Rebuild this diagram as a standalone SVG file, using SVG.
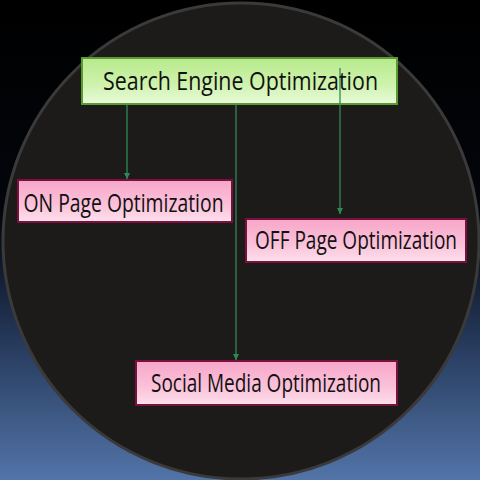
<svg xmlns="http://www.w3.org/2000/svg" width="480" height="480" viewBox="0 0 480 480">
<defs>
<linearGradient id="bg" x1="0" y1="0" x2="0" y2="1">
<stop offset="0" stop-color="#000000"/>
<stop offset="0.45" stop-color="#03060c"/>
<stop offset="0.7" stop-color="#243758"/>
<stop offset="1" stop-color="#5274a8"/>
</linearGradient>
<linearGradient id="green" x1="0" y1="0" x2="0" y2="1">
<stop offset="0" stop-color="#b8ea8c"/>
<stop offset="0.6" stop-color="#cff3ae"/>
<stop offset="1" stop-color="#eafbdc"/>
</linearGradient>
<linearGradient id="pink" x1="0" y1="0" x2="0" y2="1">
<stop offset="0" stop-color="#f7a6c8"/>
<stop offset="0.6" stop-color="#fbc2da"/>
<stop offset="1" stop-color="#fde0ec"/>
</linearGradient>
<marker id="arr" markerWidth="8" markerHeight="8" refX="6" refY="3" orient="auto" markerUnits="userSpaceOnUse">
<path d="M0,0 L6,3 L0,6 Z" fill="#2e8a55"/>
</marker>
<style>
.t{font-family:"Open Sans","Liberation Sans",sans-serif;fill:#111;text-anchor:middle}
.g{fill:url(#green);stroke:#5a9a30;stroke-width:2}
.p{fill:url(#pink);stroke:#7a1040;stroke-width:2}
.c{stroke:#2e8a55;stroke-width:1.3;fill:none}
</style>
</defs>
<rect width="480" height="480" fill="url(#bg)"/>
<circle cx="241" cy="241" r="238" fill="#1c1b1a" stroke="#3a3a3a" stroke-width="3"/>
<g id="connectors">
<line class="c" x1="127" y1="104" x2="127" y2="179" marker-end="url(#arr)"/>
<line class="c" x1="236" y1="104" x2="236" y2="360" marker-end="url(#arr)"/>
<line class="c" x1="340" y1="68" x2="340" y2="214" marker-end="url(#arr)"/>
</g>
<g id="seo">
<rect class="g" x="82" y="58" width="315" height="46"/>
<line class="c" x1="340" y1="68" x2="340" y2="104"/>
<text class="t" transform="translate(240.5 90) scale(0.8 1)" font-size="26" textLength="343.75" lengthAdjust="spacingAndGlyphs">Search Engine Optimization</text>
</g>
<g id="onpage">
<rect class="p" x="18" y="180" width="214" height="42"/>
<text class="t" transform="translate(123.5 212) scale(0.8 1)" font-size="25" textLength="250" lengthAdjust="spacingAndGlyphs">ON Page Optimization</text>
</g>
<g id="offpage">
<rect class="p" x="246" y="219" width="220" height="43"/>
<text class="t" transform="translate(356 249) scale(0.8 1)" font-size="25" textLength="252.5" lengthAdjust="spacingAndGlyphs">OFF Page Optimization</text>
</g>
<g id="social">
<rect class="p" x="136" y="361" width="261" height="44"/>
<text class="t" transform="translate(266 392) scale(0.8 1)" font-size="25" textLength="287.5" lengthAdjust="spacingAndGlyphs">Social Media Optimization</text>
</g>
</svg>
